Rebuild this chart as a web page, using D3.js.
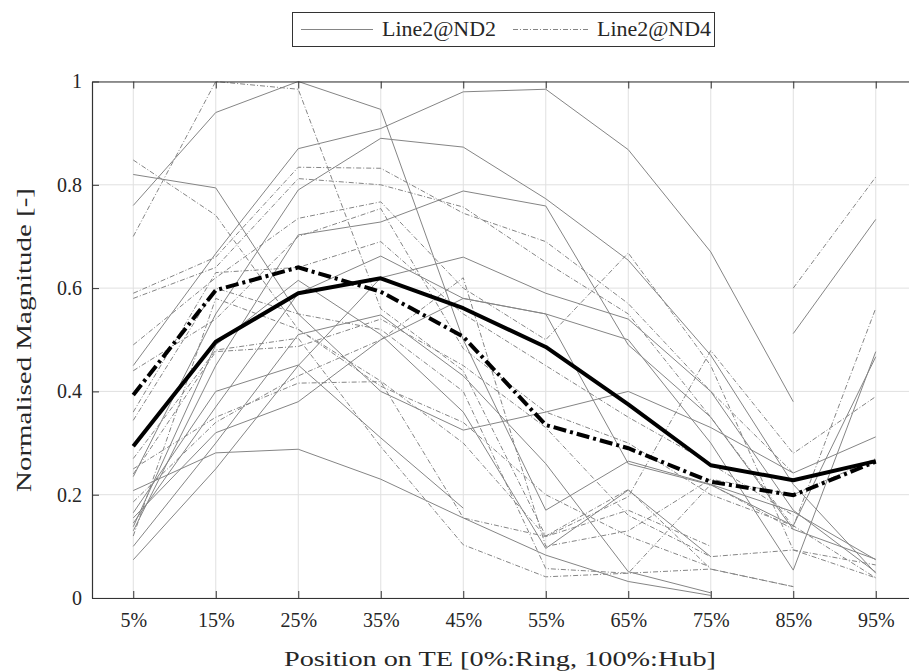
<!DOCTYPE html>
<html>
<head>
<meta charset="utf-8">
<script src="https://cdn.jsdelivr.net/npm/d3@7/dist/d3.min.js"></script>
<style>
body { margin: 0; background: #fff; }
svg text { font-family: "Liberation Serif", "Times New Roman", Tinos, "DejaVu Serif", "Noto Serif", FreeSerif, serif; fill: #262626; }
</style>
</head>
<body>
<svg width="909" height="672"></svg>
<script>
// positions along the TE
const positions = [5, 15, 25, 35, 45, 55, 65, 75, 85, 95]
const tickLabels = ["5%", "15%", "25%", "35%", "45%", "55%", "65%", "75%", "85%", "95%"]
const yTicks = [0, 0.2, 0.4, 0.6, 0.8, 1]
const yTickLabels = ["0", "0.2", "0.4", "0.6", "0.8", "1"]
const seriesNames = ["Line2@ND2", "Line2@ND4"]

// single runs, ND2 (solid)
const nd2Lines = [
	[0.76, 0.94, 1.00, 0.946, 0.50, 0.17, 0.265, 0.22, 0.167, 0.074],
	[0.82, 0.794, 0.55, 0.40, 0.325, 0.36, 0.40, 0.33, 0.242, 0.312],
	[0.45, 0.667, 0.87, 0.909, 0.98, 0.985, 0.868, 0.67, 0.38, null],
	[0.235, 0.55, 0.79, 0.89, 0.873, 0.773, 0.654, 0.47, 0.22, 0.048],
	[0.13, 0.45, 0.703, 0.728, 0.788, 0.759, 0.49, 0.35, 0.133, 0.075],
	[0.208, 0.281, 0.288, 0.23, 0.155, 0.083, 0.032, 0.005, null, null],
	[0.074, 0.25, 0.45, 0.62, 0.66, 0.59, 0.54, 0.40, 0.17, 0.05],
	[0.145, 0.37, 0.59, 0.662, 0.58, 0.55, 0.50, 0.30, 0.054, 0.477],
	[0.10, 0.30, 0.51, 0.548, 0.43, 0.26, 0.051, 0.01, null, null],
	[0.138, 0.49, 0.615, 0.51, 0.36, 0.096, 0.209, 0.08, null, null],
	[null, null, null, null, null, null, null, null, 0.512, 0.733],
	[0.165, 0.40, 0.451, 0.31, 0.174, null, null, null, null, null],
	[0.155, 0.32, 0.38, 0.50, 0.58, 0.55, 0.26, 0.219, 0.14, 0.467]
]

// single runs, ND4 (dash-dot)
const nd4Lines = [
	[0.70, 1.00, 0.985, 0.56, 0.44, 0.12, 0.21, 0.056, 0.022, null],
	[0.848, 0.741, 0.52, 0.42, 0.30, 0.119, 0.196, 0.479, 0.28, 0.39],
	[0.59, 0.66, 0.834, 0.832, 0.745, 0.69, 0.57, 0.40, 0.242, null],
	[0.58, 0.64, 0.812, 0.80, 0.757, 0.65, 0.55, 0.35, 0.138, 0.561],
	[0.49, 0.62, 0.735, 0.767, 0.60, 0.50, 0.668, 0.45, 0.093, 0.064],
	[0.44, 0.54, 0.70, 0.754, 0.483, 0.36, 0.30, 0.20, 0.14, 0.039],
	[0.36, 0.63, 0.64, 0.69, 0.55, 0.45, 0.35, 0.26, 0.16, null],
	[0.344, 0.60, 0.55, 0.52, 0.40, 0.057, 0.048, 0.22, 0.133, null],
	[0.27, 0.48, 0.503, 0.293, 0.103, 0.041, 0.048, 0.056, 0.022, null],
	[0.25, 0.35, 0.416, 0.419, 0.155, 0.119, 0.17, 0.10, null, null],
	[0.24, 0.477, 0.487, 0.54, 0.45, 0.33, 0.16, 0.08, 0.093, 0.039],
	[0.186, 0.34, 0.43, 0.50, 0.62, 0.10, 0.13, 0.23, 0.20, 0.27],
	[null, null, null, null, null, null, null, null, 0.60, 0.815],
	[0.12, 0.58, 0.52, 0.41, 0.34, 0.20, 0.12, 0.06, null, null]
]

// thick black averages
const nd2Mean = [0.294, 0.496, 0.59, 0.619, 0.561, 0.486, 0.375, 0.257, 0.228, 0.265]
const nd4Mean = [0.393, 0.596, 0.64, 0.593, 0.506, 0.335, 0.29, 0.225, 0.199, 0.264]

const svg = d3.select("svg")
const mLeft = 92, mTop = 81.5, mBottom = 598, mRight = 917

const x = d3.scaleLinear().domain([0, 100]).range([mLeft, mRight])
const y = d3.scaleLinear().domain([0, 1]).range([mBottom, mTop])

const gridColor = "#e0e0e0"
const axisColor = "#333"
const grey = "#858585"
const serif = '"Liberation Serif", "Times New Roman", Tinos, "DejaVu Serif", "Noto Serif", FreeSerif, serif'

// grid
svg.append("g").selectAll("line")
	.data(positions)
	.enter().append("line")
	.attr("x1", d => x(d)).attr("x2", d => x(d))
	.attr("y1", mTop).attr("y2", mBottom)
	.style("stroke", gridColor)
svg.append("g").selectAll("line")
	.data(yTicks)
	.enter().append("line")
	.attr("x1", mLeft).attr("x2", mRight)
	.attr("y1", d => y(d)).attr("y2", d => y(d))
	.style("stroke", gridColor)

const line = d3.line()
	.defined(d => d != null)
	.x((d, i) => x(positions[i]))
	.y(d => y(d))

const plot = svg.append("g")

plot.selectAll(".nd2")
	.data(nd2Lines)
	.enter().append("path")
	.attr("class", "nd2")
	.attr("d", line)
	.style("fill", "none")
	.style("stroke", grey)
	.style("stroke-width", 1)

plot.selectAll(".nd4")
	.data(nd4Lines)
	.enter().append("path")
	.attr("class", "nd4")
	.attr("d", line)
	.style("fill", "none")
	.style("stroke", grey)
	.style("stroke-width", 1)
	.style("stroke-dasharray", "5,2,1,2")

plot.append("path")
	.attr("d", line(nd2Mean))
	.style("fill", "none")
	.style("stroke", "#000")
	.style("stroke-width", 4)
	.style("stroke-linejoin", "round")

plot.append("path")
	.attr("d", line(nd4Mean))
	.style("fill", "none")
	.style("stroke", "#000")
	.style("stroke-width", 4)
	.style("stroke-dasharray", "13,4,3,4")

// axes (ticks pointing in, box style)
const xAxis = d3.axisBottom(x).tickValues(positions)
	.tickFormat((d, i) => tickLabels[i]).tickSizeInner(-7).tickSizeOuter(0).tickPadding(18)
const xAxisTop = d3.axisTop(x).tickValues(positions)
	.tickFormat("").tickSizeInner(-7).tickSizeOuter(0)
const yAxis = d3.axisLeft(y).tickValues(yTicks)
	.tickFormat((d, i) => yTickLabels[i]).tickSizeInner(-7).tickSizeOuter(0).tickPadding(10)

const gx = svg.append("g").attr("transform", `translate(0,${mBottom})`).call(xAxis)
const gt = svg.append("g").attr("transform", `translate(0,${mTop})`).call(xAxisTop)
const gy = svg.append("g").attr("transform", `translate(${mLeft},0)`).call(yAxis)

;[gx, gt, gy].forEach(g => {
	g.attr("font-family", null)
	g.select(".domain").style("stroke", axisColor).style("stroke-width", 1.2)
	g.selectAll(".tick line").style("stroke", axisColor)
	g.selectAll("text").style("font-size", "20px").style("fill", "#262626")
		.style("font-family", serif)
})
gx.selectAll("text").attr("dy", "0.55em")

// axis titles
svg.append("text")
	.attr("x", 500).attr("y", 666)
	.attr("text-anchor", "middle")
	.style("font-size", "22px")
	.style("font-family", serif)
	.attr("textLength", 432).attr("lengthAdjust", "spacingAndGlyphs")
	.text("Position on TE [0%:Ring, 100%:Hub]")

svg.append("text")
	.attr("transform", "translate(31,340) rotate(-90)")
	.attr("text-anchor", "middle")
	.style("font-size", "22px")
	.style("font-family", serif)
	.attr("textLength", 304).attr("lengthAdjust", "spacingAndGlyphs")
	.text("Normalised Magnitude [-]")

// legend
const legend = svg.append("g")
legend.append("rect")
	.attr("x", 292.5).attr("y", 12.5).attr("width", 422).attr("height", 34)
	.style("fill", "#fff").style("stroke", axisColor)

const legendItems = [
	{ name: seriesNames[0], x0: 301, x1: 373, tx: 382, dash: null },
	{ name: seriesNames[1], x0: 513, x1: 588, tx: 597, dash: "5,2,1,2" }
]
const li = legend.selectAll(".item")
	.data(legendItems)
	.enter().append("g")
li.append("line")
	.attr("x1", d => d.x0).attr("x2", d => d.x1)
	.attr("y1", 29.5).attr("y2", 29.5)
	.style("stroke", grey)
	.style("stroke-dasharray", d => d.dash)
li.append("text")
	.attr("x", d => d.tx).attr("y", 36)
	.style("font-size", "20px")
	.style("font-family", serif)
	.attr("textLength", 114).attr("lengthAdjust", "spacingAndGlyphs")
	.text(d => d.name)
</script>
</body>
</html>
